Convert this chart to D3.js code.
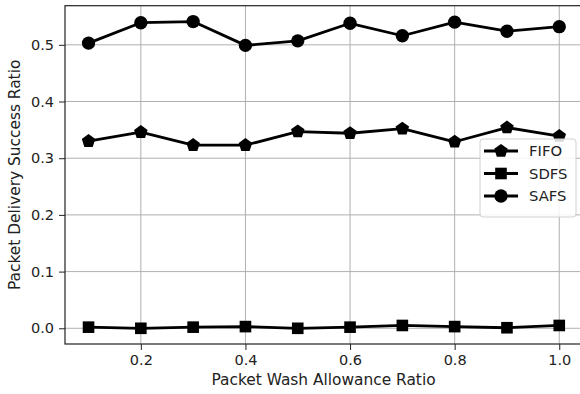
<!DOCTYPE html>
<html>
<head>
<meta charset="utf-8">
<script src="https://cdn.jsdelivr.net/npm/d3@7"></script>
<style>
  html, body { margin: 0; padding: 0; background: #fff; }
  svg { display: block; font-family: "DejaVu Sans", sans-serif; }
</style>
</head>
<body>
<div id="chart"></div>
<script>
// Packet delivery success ratio vs. wash allowance ratio

const xValues = [0.1, 0.2, 0.3, 0.4, 0.5, 0.6, 0.7, 0.8, 0.9, 1.0]
const fifo = [0.330, 0.346, 0.323, 0.323, 0.347, 0.344, 0.352, 0.329, 0.354, 0.339]
const sdfs = [0.002, 0.000, 0.002, 0.003, 0.000, 0.002, 0.005, 0.003, 0.001, 0.005]
const safs = [0.503, 0.539, 0.541, 0.499, 0.507, 0.538, 0.516, 0.540, 0.524, 0.532]
const seriesNames = ['FIFO', 'SDFS', 'SAFS']
const xTicks = [0.2, 0.4, 0.6, 0.8, 1.0]
const yTicks = [0.0, 0.1, 0.2, 0.3, 0.4, 0.5]

const width = 580
const height = 394
const plot = { left: 65, right: 582.8, top: 5.7, bottom: 344 }

const svg = d3.select('#chart')
  .append('svg')
  .attr('width', width)
  .attr('height', height)

const x = d3.scaleLinear().domain([0.055, 1.045]).range([plot.left, plot.right])
const y = d3.scaleLinear().domain([-0.0277, 0.569]).range([plot.bottom, plot.top])

// grid
const grid = svg.append('g').attr('stroke', '#b0b0b0').attr('stroke-width', 1)
grid.selectAll('.gx').data(xTicks).join('line')
  .attr('x1', d => x(d)).attr('x2', d => x(d))
  .attr('y1', plot.top).attr('y2', plot.bottom)
grid.selectAll('.gy').data(yTicks).join('line')
  .attr('x1', plot.left).attr('x2', plot.right)
  .attr('y1', d => y(d)).attr('y2', d => y(d))

// axes
const xAxis = svg.append('g')
  .attr('transform', `translate(0,${plot.bottom})`)
  .call(d3.axisBottom(x).tickValues(xTicks).tickFormat(d3.format('.1f')).tickSize(6).tickPadding(5))
const yAxis = svg.append('g')
  .attr('transform', `translate(${plot.left},0)`)
  .call(d3.axisLeft(y).tickValues(yTicks).tickFormat(d3.format('.1f')).tickSize(6).tickPadding(5))

for (const ax of [xAxis, yAxis]) {
  ax.select('.domain').remove()
  ax.selectAll('line').attr('stroke', '#222').attr('stroke-width', 1)
  ax.selectAll('text').attr('font-size', '14.5px').attr('fill', '#222')
    .attr('font-family', '"DejaVu Sans", sans-serif')
}

// spines
svg.append('rect')
  .attr('x', plot.left).attr('y', plot.top)
  .attr('width', plot.right - plot.left).attr('height', plot.bottom - plot.top)
  .attr('fill', 'none').attr('stroke', '#222').attr('stroke-width', 1.2)

// axis labels
svg.append('text')
  .attr('x', 323.5).attr('y', 385)
  .attr('text-anchor', 'middle').attr('font-size', '15.4px').attr('fill', '#222')
  .text('Packet Wash Allowance Ratio')
svg.append('text')
  .attr('transform', `translate(20,${(plot.top + plot.bottom) / 2}) rotate(-90)`)
  .attr('text-anchor', 'middle').attr('font-size', '15.4px').attr('fill', '#222')
  .text('Packet Delivery Success Ratio')

// markers
const pentagon = d3.symbol().type({
  draw(ctx, size) {
    const r = Math.sqrt(size / 2.38)
    for (let i = 0; i < 5; i++) {
      const a = -Math.PI / 2 + i * 2 * Math.PI / 5
      const px = r * Math.cos(a), py = r * Math.sin(a)
      if (i === 0) ctx.moveTo(px, py); else ctx.lineTo(px, py)
    }
    ctx.closePath()
  }
}).size(120)
const square = d3.symbol().type(d3.symbolSquare).size(135)
const circle = d3.symbol().type(d3.symbolCircle).size(140)
const markers = [pentagon, square, circle]
const allSeries = [fifo, sdfs, safs]

const line = d3.line().x((d, i) => x(xValues[i])).y(d => y(d))

allSeries.forEach((vals, s) => {
  const g = svg.append('g')
  g.append('path')
    .attr('d', line(vals))
    .attr('fill', 'none').attr('stroke', '#000').attr('stroke-width', 2.8)
    .attr('stroke-linejoin', 'round')
  g.selectAll('path.m').data(vals).join('path')
    .attr('class', 'm')
    .attr('transform', (d, i) => `translate(${x(xValues[i])},${y(d)})`)
    .attr('d', markers[s]())
    .attr('fill', '#000')
})

// legend
const legend = svg.append('g')
legend.append('rect')
  .attr('x', 480).attr('y', 139).attr('width', 96).attr('height', 78)
  .attr('rx', 3).attr('fill', '#fff').attr('fill-opacity', 0.85)
  .attr('stroke', '#d0d0d0').attr('stroke-width', 1)
const legendY = [151, 173.5, 196]
seriesNames.forEach((name, i) => {
  const item = legend.append('g').attr('transform', `translate(0,${legendY[i]})`)
  item.append('line').attr('x1', 484).attr('x2', 518).attr('y1', 0).attr('y2', 0)
    .attr('stroke', '#000').attr('stroke-width', 2.8)
  item.append('path').attr('transform', 'translate(501,0)').attr('d', markers[i]()).attr('fill', '#000')
  item.append('text').attr('x', 529).attr('y', 0).attr('dy', '0.35em')
    .attr('font-size', '14.8px').attr('fill', '#222').text(name)
})
</script>
</body>
</html>
